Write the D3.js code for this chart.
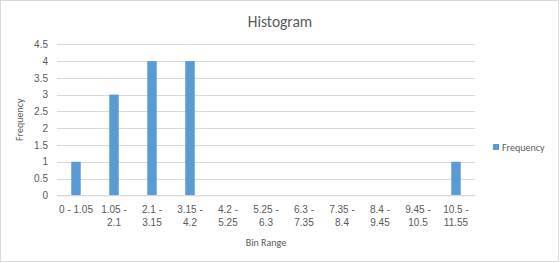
<!DOCTYPE html>
<html><head><meta charset="utf-8">
<script src="https://cdn.jsdelivr.net/npm/d3@7"></script>
<style>body{margin:0;background:#fff}svg{display:block;font-family:Calibri,"Liberation Sans",Carlito,"Open Sans",sans-serif}</style>
</head><body><svg id="c" width="560" height="263"></svg>
<script>
const categories = ["0 - 1.05","1.05 - 2.1","2.1 - 3.15","3.15 - 4.2","4.2 - 5.25","5.25 - 6.3","6.3 - 7.35","7.35 - 8.4","8.4 - 9.45","9.45 - 10.5","10.5 - 11.55"];
const frequency = [1,3,4,4,0,0,0,0,0,0,1];
const yTicks = [0,0.5,1,1.5,2,2.5,3,3.5,4,4.5];

const svg = d3.select("#c");
const W = 560, H = 263;
const m = {l:57, r:475, t:44.3, b:195.3};
const txt = "#595959";

svg.append("rect").attr("x",0.5).attr("y",0.5).attr("width",W-2).attr("height",H-2)
  .attr("fill","#fff").attr("stroke","#d9d9d9");

const x = d3.scaleBand().domain(categories).range([m.l,m.r]).paddingInner(0.75).paddingOuter(0.375);
const y = d3.scaleLinear().domain([0,4.5]).range([m.b,m.t]);

// gridlines
svg.append("g").selectAll("line").data(yTicks).join("line")
  .attr("x1",m.l).attr("x2",m.r).attr("y1",d=>Math.round(y(d))+0.5).attr("y2",d=>Math.round(y(d))+0.5)
  .attr("stroke","#d9d9d9").attr("stroke-width",1);

// y axis labels
const ya = svg.append("g").attr("transform",`translate(${m.l},0)`)
  .call(d3.axisLeft(y).tickValues(yTicks).tickSize(0).tickPadding(9).tickFormat(d=>d));
ya.select(".domain").remove();
ya.selectAll("text").attr("fill",txt).style("font-size","10px");

// bars
svg.append("g").selectAll("rect").data(categories).join("rect")
  .attr("x",d=>x(d)).attr("width",x.bandwidth())
  .attr("y",(d,i)=>y(frequency[i])).attr("height",(d,i)=>y(0)-y(frequency[i]))
  .attr("fill","#5b9bd5");

// x axis
const xa = svg.append("g").attr("transform",`translate(0,${m.b})`)
  .call(d3.axisBottom(x).tickSize(0).tickPadding(0).tickFormat(""));
xa.select(".domain").attr("stroke","#d9d9d9");
xa.selectAll(".tick").each(function(d){
  const g = d3.select(this);
  const parts = d.includes(" - ") && d !== "0 - 1.05" ? [d.split(" - ")[0]+" -", d.split(" - ")[1]] : [d];
  const t = g.append("text").attr("fill",txt).style("font-size","10px").attr("text-anchor","middle");
  parts.forEach((p,i)=>t.append("tspan").attr("x",0).attr("y",17.5+i*13).text(p));
});

// title
svg.append("text").attr("x",280).attr("y",27).attr("text-anchor","middle")
  .attr("fill",txt).style("font-size","15.5px").text("Histogram");

// axis titles
svg.append("text").attr("x",(m.l+m.r)/2).attr("y",245.5).attr("text-anchor","middle")
  .attr("fill",txt).style("font-size","10px").text("Bin Range");
svg.append("text").attr("transform",`translate(23,${(m.t+m.b)/2}) rotate(-90)`).attr("text-anchor","middle")
  .attr("fill",txt).style("font-size","10px").text("Frequency");

// legend
svg.append("rect").attr("x",493).attr("y",144).attr("width",6).attr("height",6).attr("fill","#5b9bd5");
svg.append("text").attr("x",502).attr("y",150.5).attr("fill",txt).style("font-size","10px").text("Frequency");
</script></body></html>
